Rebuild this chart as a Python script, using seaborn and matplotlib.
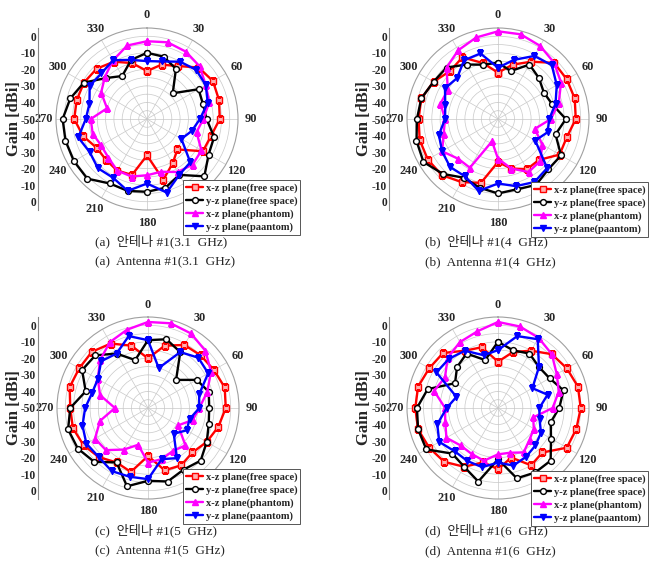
import numpy as np
import pandas as pd
import matplotlib
matplotlib.use('Agg')
import matplotlib.pyplot as plt
import seaborn as sns

sns.set_style('white')
plt.rcParams['font.family'] = ['Liberation Serif', 'Noto Sans CJK KR']

# measurement angles (deg), one point every 15 degrees
angles = list(range(0, 360, 15))

series_names = ['x-z plane(free space)', 'y-z plane(free space)',
                'x-z plane(phantom)', 'y-z plane(paantom)']

# (a) 3.1 GHz
a_xz_free = [-21, -16, -13, -6, -4, -5, -6, -10, -11, -24, -19, -12, -28, -15, -14, -15, -15, -10, -6, -6, -6, -7, -10, -15]
a_yz_free = [-10, -11, -15, -28, -14, -15, -14, -8, -7, -1, -11, -7, -6, -5, -5, 1, 1, 1, 1, -2, -6, -15, -20, -13]
a_xz_ph = [-3, -2, -3, -5, -9, -11, -16, -19, -12, -11, -13, -17, -16, -14, -14, -17, -18, -16, -16, -25, -18, -14, -9, -4]
a_yz_ph = [-15, -14, -10, -8, -9, -12, -18, -22, -26, -13, -11, -4, -11, -5, -9, -8, -10, -7, -13, -14, -10, -11, -9, -13]

# (b) 4 GHz
b_xz_free = [-22, -16, -10, -2, -2, -2, -3, -7, -7, -15, -15, -19, -24, -10, -6, -2, -1, -1, -2, -2, -5, -9, -7, -15]
b_yz_free = [-16, -20, -12, -15, -18, -16, -9, -14, -6, -7, -4, -6, -5, -7, -9, -3, 2, 1, -1, -2, -5, -6, -12, -16]
b_xz_ph = [3, 3, 1, -2, -6, -12, -18, -27, -19, -14, -13, -19, -26, -36, -16, -16, -11, -16, -18, -14, -15, -6, -2, 1]
b_yz_ph = [-19, -13, -6, -4, -9, -14, -19, -19, -24, -8, -6, -8, -11, -5, -10, -9, -11, -13, -18, -17, -13, -15, -9, -9]

# (c) 5 GHz
c_xz_free = [-20, -11, -6, -5, -4, -2, -3, -6, -9, -12, -10, -11, -21, -10, -12, -8, -5, -3, -3, -1, -2, -2, -5, -11]
c_yz_free = [-9, -7, -11, -26, -16, -12, -13, -12, -9, -5, -7, -4, -6, -1, -12, -4, -1, 0, -3, -11, -4, -5, -12, -20]
c_xz_ph = [2, 3, 2, -1, -6, -13, -19, -22, -29, -18, -20, -18, -17, -27, -21, -14, -13, -20, -30, -20, -15, -9, -4, -1]
c_yz_ph = [-9, -25, -11, -7, -8, -18, -19, -24, -23, -28, -15, -18, -7, -7, -6, -8, -7, -9, -12, -15, -15, -10, -12, -5]

# (d) 6 GHz
d_xz_free = [-22, -15, -10, -4, -2, 0, 0, -1, -2, -12, -10, -19, -13, -16, -9, -4, -2, 0, 0, 0, -2, -3, -10, -12]
d_yz_free = [-10, -14, -12, -15, -14, -9, -13, -17, -13, -5, -5, -6, -19, -4, -9, -11, 0, 0, -1, -6, -20, -15, -12, -20]
d_xz_ph = [2, 1, -1, -4, -9, -12, -17, -28, -25, -23, -19, -22, -22, -17, -18, -18, -14, -17, -18, -10, -13, -7, -4, -2]
d_yz_ph = [-15, -5, -2, -15, -26, -19, -25, -24, -20, -18, -16, -14, -17, -13, -13, -13, -9, -12, -19, -24, -7, -8, -10, -17]

panels = [
    ('a', [a_xz_free, a_yz_free, a_xz_ph, a_yz_ph], '3.1'),
    ('b', [b_xz_free, b_yz_free, b_xz_ph, b_yz_ph], '4'),
    ('c', [c_xz_free, c_yz_free, c_xz_ph, c_yz_ph], '5'),
    ('d', [d_xz_free, d_yz_free, d_xz_ph, d_yz_ph], '6'),
]

colors = ['#ff0000', '#000000', '#ff00ff', '#0000ff']
markers = ['s', 'o', '^', 'v']
faces = ['#ffb0b0', 'white', '#ff00ff', '#0000ff']

W, H = 657, 577
fig = plt.figure(figsize=(W / 100, H / 100), dpi=100)

centers = {'a': (147, 119), 'b': (498, 119), 'c': (148, 408), 'd': (498, 408)}
R = 91
axis_x = {'a': 38, 'b': 389, 'c': 38, 'd': 389}
ylab_x = {'a': 14, 'b': 364, 'c': 14, 'd': 364}
legend_pos = {'a': (183, 180), 'b': (531, 182), 'c': (183, 469), 'd': (531, 471)}
caption_pos = {'a': (95, 241), 'b': (425, 241), 'c': (95, 530), 'd': (425, 530)}

theta_labels = ['0', '30', '60', '90', '120', '', '180', '210', '240', '270', '300', '330']
left_labels = ['0', '-10', '-20', '-30', '-40', '-50', '-40', '-30', '-20', '-10', '0']

for key, vals, freq in panels:
    cx, cy = centers[key]
    rect = [(cx - R) / W, 1 - (cy + R) / H, 2 * R / W, 2 * R / H]
    ax = fig.add_axes(rect, projection='polar')
    ax.set_theta_zero_location('N')
    ax.set_theta_direction(-1)

    rows = []
    for name, v in zip(series_names, vals):
        for ang, g in zip(angles + [360], v + [v[0]]):
            rows.append({'series': name, 'theta': np.deg2rad(ang), 'gain': g})
    df = pd.DataFrame(rows)

    for i, name in enumerate(series_names):
        sub = df[df['series'] == name]
        sns.lineplot(data=sub, x='theta', y='gain', sort=False, estimator=None,
                     color=colors[i], marker=markers[i], markersize=4.2,
                     markerfacecolor=faces[i], markeredgecolor=colors[i],
                     markeredgewidth=1.0, linewidth=1.7, label=name, ax=ax)

    ax.set_ylim(-50, 5)
    ax.set_yticks(np.arange(-45, 5, 5))
    ax.set_yticklabels([])
    ax.set_thetagrids(range(0, 360, 30), theta_labels, fontsize=8.8, fontweight='bold')
    ax.tick_params(axis='x', pad=-1.5)
    ax.grid(True, color='#c8c8c8', linewidth=0.5)
    ax.spines['polar'].set_color('#a0a0a0')
    ax.spines['polar'].set_linewidth(0.8)
    ax.set_xlabel('')
    ax.set_ylabel('')

    lx, ly = legend_pos[key]
    leg = ax.legend(loc='upper left', bbox_to_anchor=(lx / W, 1 - ly / H),
                    bbox_transform=fig.transFigure, fancybox=False, framealpha=1,
                    edgecolor='#555555', borderpad=0.3, labelspacing=0.33,
                    handlelength=1.6, handletextpad=0.25, borderaxespad=0,
                    prop={'family': 'Liberation Serif', 'weight': 'bold', 'size': 7.6})
    leg.get_frame().set_linewidth(0.7)
    leg.set_zorder(20)

    # radial scale drawn as a vertical axis on the left
    side = fig.add_axes([axis_x[key] / W, rect[1], 0.0001, rect[3]])
    side.set_ylim(-55, 55)
    side.set_yticks(np.arange(50, -51, -10))
    side.set_yticklabels(left_labels, fontsize=8.3, fontweight='bold')
    side.set_yticks(np.arange(-55, 56, 5), minor=True)
    side.set_xticks([])
    for s in ['top', 'right', 'bottom']:
        side.spines[s].set_visible(False)
    side.spines['left'].set_color('#888888')
    side.spines['left'].set_linewidth(0.8)
    side.tick_params(axis='y', which='major', direction='in', length=3, pad=1.5, color='#888888')
    side.tick_params(axis='y', which='minor', direction='in', length=2, color='#888888')
    side.patch.set_visible(False)

    fig.text(ylab_x[key] / W, 1 - cy / H, 'Gain [dBi]', rotation=90, ha='center',
             va='center', fontsize=12, fontweight='bold')

    px, py = caption_pos[key]
    fig.text(px / W, 1 - py / H, f'({key})  안테나 #1({freq}  GHz)',
             ha='left', va='center', fontsize=9.5)
    fig.text(px / W, 1 - (py + 21) / H, f'({key})  Antenna #1({freq}  GHz)',
             ha='left', va='center', fontsize=9.5)

fig.savefig('out.png', dpi=100)
